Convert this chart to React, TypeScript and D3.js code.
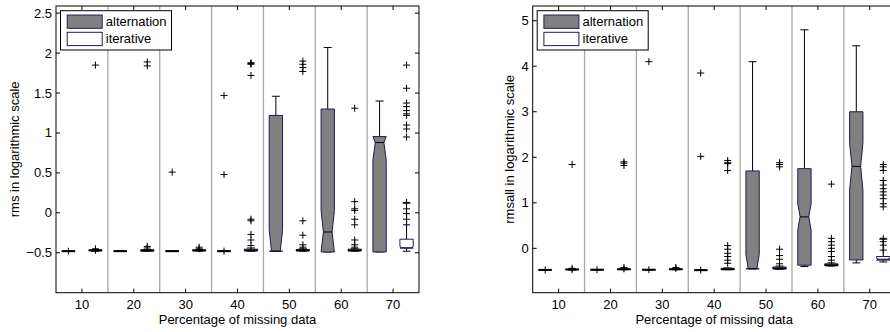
import React from "react";
import * as d3 from "d3";

const groups = [10, 20, 30, 40, 50, 60, 70];

// each box: [lower whisker, q1, median, q3, upper whisker, notch half-height]
const rmsAlternation = [
  [-0.48, -0.48, -0.48, -0.48, -0.48, 0],
  [-0.48, -0.48, -0.48, -0.48, -0.48, 0],
  [-0.48, -0.48, -0.48, -0.48, -0.48, 0],
  [-0.48, -0.48, -0.48, -0.48, -0.48, 0],
  [-0.48, -0.48, -0.48, 1.22, 1.46, 0.26],
  [-0.49, -0.49, -0.24, 1.3, 2.07, 0.27],
  [-0.49, -0.49, 0.88, 0.955, 1.4, 0.22],
];
const rmsAlternationOut = [[-0.48], [], [0.51], [-0.48, 0.48, 1.47], [], [], []];

const rmsIterative = [
  [-0.48, -0.475, -0.47, -0.465, -0.46, 0],
  [-0.48, -0.48, -0.47, -0.465, -0.46, 0],
  [-0.48, -0.475, -0.47, -0.465, -0.46, 0],
  [-0.48, -0.475, -0.47, -0.455, -0.44, 0],
  [-0.48, -0.475, -0.47, -0.46, -0.45, 0],
  [-0.48, -0.475, -0.47, -0.455, -0.45, 0],
  [-0.48, -0.42, -0.44, -0.33, 0.12, 0.02],
];
const rmsIterativeOut = [
  [-0.45, -0.47, 1.85],
  [-0.42, -0.44, 1.84, 1.89],
  [-0.43, -0.45],
  [-0.08, -0.1, -0.27, -0.34, -0.41, 1.72, 1.86, 1.87, 1.88],
  [-0.1, -0.28, -0.4, -0.43, 1.77, 1.82, 1.86, 1.9],
  [1.31, 0.14, 0.05, 0.03, -0.08, -0.15, -0.34, -0.4, -0.43],
  [-0.15, -0.08, -0.01, 0.05, 0.13, 0.95, 1.05, 1.1, 1.22, 1.24, 1.28, 1.33, 1.375, 1.56, 1.85],
];

const rmsallAlternation = [
  [-0.475, -0.475, -0.475, -0.475, -0.475, 0],
  [-0.47, -0.47, -0.47, -0.47, -0.47, 0],
  [-0.47, -0.47, -0.47, -0.47, -0.47, 0],
  [-0.48, -0.48, -0.48, -0.48, -0.48, 0],
  [-0.45, -0.45, -0.45, 1.7, 4.1, 0.32],
  [-0.4, -0.37, 0.69, 1.75, 4.8, 0.29],
  [-0.32, -0.256, 1.8, 3.0, 4.45, 0.52],
];
const rmsallAlternationOut = [[-0.475], [-0.47], [-0.47, 4.1], [-0.48, 2.02, 3.85], [], [], []];

const rmsallIterative = [
  [-0.475, -0.47, -0.465, -0.46, -0.455, 0],
  [-0.47, -0.465, -0.46, -0.455, -0.45, 0],
  [-0.47, -0.465, -0.46, -0.455, -0.45, 0],
  [-0.47, -0.465, -0.46, -0.44, -0.43, 0],
  [-0.46, -0.45, -0.44, -0.41, -0.39, 0],
  [-0.39, -0.38, -0.37, -0.34, -0.32, 0],
  [-0.3, -0.26, -0.24, -0.18, 0.2, 0.02],
];
const rmsallIterativeOut = [
  [-0.47, -0.44, 1.84],
  [-0.42, -0.45, 1.82, 1.87, 1.9],
  [-0.44, -0.42],
  [0.06, -0.02, -0.11, -0.18, -0.26, -0.33, 1.71, 1.86, 1.88, 1.93],
  [-0.02, -0.16, -0.24, -0.34, 1.79, 1.84, 1.88],
  [0.22, 0.145, 0.07, 0.0, -0.07, -0.18, -0.26, 1.41],
  [-0.04, 0.07, 0.145, 0.22, 0.91, 0.98, 1.09, 1.17, 1.24, 1.31, 1.39, 1.49, 1.71, 1.79, 1.84],
];

const rmsTicks = [-0.5, 0, 0.5, 1, 1.5, 2, 2.5];
const rmsallTicks = [0, 1, 2, 3, 4, 5];
const seriesNames = ["alternation", "iterative"];

const FONT = "'Liberation Sans', Arial, Helvetica, sans-serif";
const BOX_STROKE = "#1c1c5c";
const TOP = 6, BOTTOM = 292.7, WIDTH = 363;

const fmt = (v: number) => String(v).replace("-", "\u2212");

const Box = ({ cx, w, s, y, fill }) => {
  const [lo, q1raw, med, q3, hi, notch] = s;
  const q1 = Math.min(q1raw, med);
  const hw = w / 2, nw = notch > 0 ? hw * 0.65 : hw;
  const nLo = Math.max(q1, med - notch), nHi = Math.min(q3, med + notch);
  const pts = [
    [cx - hw, y(q1)], [cx - hw, y(nLo)], [cx - nw, y(med)], [cx - hw, y(nHi)], [cx - hw, y(q3)],
    [cx + hw, y(q3)], [cx + hw, y(nHi)], [cx + nw, y(med)], [cx + hw, y(nLo)], [cx + hw, y(q1)],
  ];
  const flat = Math.abs(y(q3) - y(q1)) < 2;
  return (
    <g>
      <line x1={cx} x2={cx} y1={y(q3)} y2={y(hi)} stroke="#000" strokeWidth={1} />
      <line x1={cx} x2={cx} y1={y(q1)} y2={y(lo)} stroke="#000" strokeWidth={1} />
      <line x1={cx - 4} x2={cx + 4} y1={y(hi)} y2={y(hi)} stroke="#000" strokeWidth={1} />
      <line x1={cx - 4} x2={cx + 4} y1={y(lo)} y2={y(lo)} stroke="#000" strokeWidth={1} />
      <polygon points={pts.map(p => p.join(",")).join(" ")} fill={fill} stroke={BOX_STROKE} strokeWidth={1} />
      <line x1={cx - nw} x2={cx + nw} y1={y(med)} y2={y(med)} stroke="#000" strokeWidth={flat ? 2 : 1} />
    </g>
  );
};

const Plus = ({ x, y }) => (
  <path d={`M${x - 3.5},${y}H${x + 3.5}M${x},${y - 3.5}V${y + 3.5}`} stroke="#000" strokeWidth={1} />
);

const Panel = ({ left, yDomain, yTicks, yLabel, labelX, alt, altOut, it, itOut }) => {
  const x = d3.scaleLinear().domain([0.5, 7.5]).range([left, left + WIDTH]);
  const y = d3.scaleLinear().domain(yDomain).range([BOTTOM, TOP]);
  const bw = x(0.757) - x(0.5);
  const off = x(0.76) - x(0.5);
  return (
    <g fontFamily={FONT} fontSize={13}>
      <rect x={left} y={TOP} width={WIDTH} height={BOTTOM - TOP} fill="#fff" />
      {d3.range(1, 7).map(i => (
        <line key={i} x1={x(i + 0.5)} x2={x(i + 0.5)} y1={TOP} y2={BOTTOM} stroke="#a8a8a8" strokeWidth={1.3} />
      ))}
      {groups.map((g, i) => (
        <g key={g}>
          <Box cx={x(i + 1) - off} w={bw} s={alt[i]} y={y} fill="#808080" />
          <Box cx={x(i + 1) + off} w={bw} s={it[i]} y={y} fill="#fff" />
          {altOut[i].map((v, j) => <Plus key={"a" + j} x={x(i + 1) - off} y={y(v)} />)}
          {itOut[i].map((v, j) => <Plus key={"b" + j} x={x(i + 1) + off} y={y(v)} />)}
        </g>
      ))}
      <rect x={left} y={TOP} width={WIDTH} height={BOTTOM - TOP} fill="none" stroke="#000" strokeWidth={1} />
      {groups.map((g, i) => (
        <g key={g}>
          <line x1={x(i + 1)} x2={x(i + 1)} y1={BOTTOM} y2={BOTTOM - 4} stroke="#000" />
          <line x1={x(i + 1)} x2={x(i + 1)} y1={TOP} y2={TOP + 4} stroke="#000" />
          <text x={x(i + 1)} y={BOTTOM + 16} textAnchor="middle" fill="#000">{g}</text>
        </g>
      ))}
      {yTicks.map(t => (
        <g key={t}>
          <line x1={left} x2={left + 4} y1={y(t)} y2={y(t)} stroke="#000" />
          <line x1={left + WIDTH} x2={left + WIDTH - 4} y1={y(t)} y2={y(t)} stroke="#000" />
          <text x={left - 4} y={y(t) + 4.5} textAnchor="end" fill="#000">{fmt(t)}</text>
        </g>
      ))}
      <text x={left + WIDTH / 2} y={BOTTOM + 31} textAnchor="middle" fill="#000">Percentage of missing data</text>
      <text transform={`translate(${labelX},${(TOP + BOTTOM) / 2}) rotate(-90)`} textAnchor="middle" fill="#000">{yLabel}</text>
      <g transform={`translate(${left + 4.5},10.7)`}>
        <rect x={0} y={0} width={111} height={39.3} fill="#fff" stroke="#000" strokeWidth={1} />
        <rect x={6.7} y={4.3} width={35} height={13.3} fill="#808080" stroke={BOX_STROKE} />
        <rect x={6.7} y={21.6} width={35} height={13.3} fill="#fff" stroke={BOX_STROKE} />
        <text x={45.3} y={15.6} fill="#000">{seriesNames[0]}</text>
        <text x={45.3} y={32.6} fill="#000">{seriesNames[1]}</text>
      </g>
    </g>
  );
};

export default function App() {
  return (
    <svg width={890} height={332} style={{ position: "fixed", left: 0, top: 0, background: "#fff" }}>
      <rect width={890} height={332} fill="#fff" />
      <Panel left={56} yDomain={[-1, 2.59]} yTicks={rmsTicks} yLabel="rms in logarithmic scale" labelX={19}
        alt={rmsAlternation} altOut={rmsAlternationOut} it={rmsIterative} itOut={rmsIterativeOut} />
      <Panel left={532.7} yDomain={[-0.975, 5.323]} yTicks={rmsallTicks} yLabel="rmsall in logarithmic scale" labelX={514}
        alt={rmsallAlternation} altOut={rmsallAlternationOut} it={rmsallIterative} itOut={rmsallIterativeOut} />
    </svg>
  );
}
